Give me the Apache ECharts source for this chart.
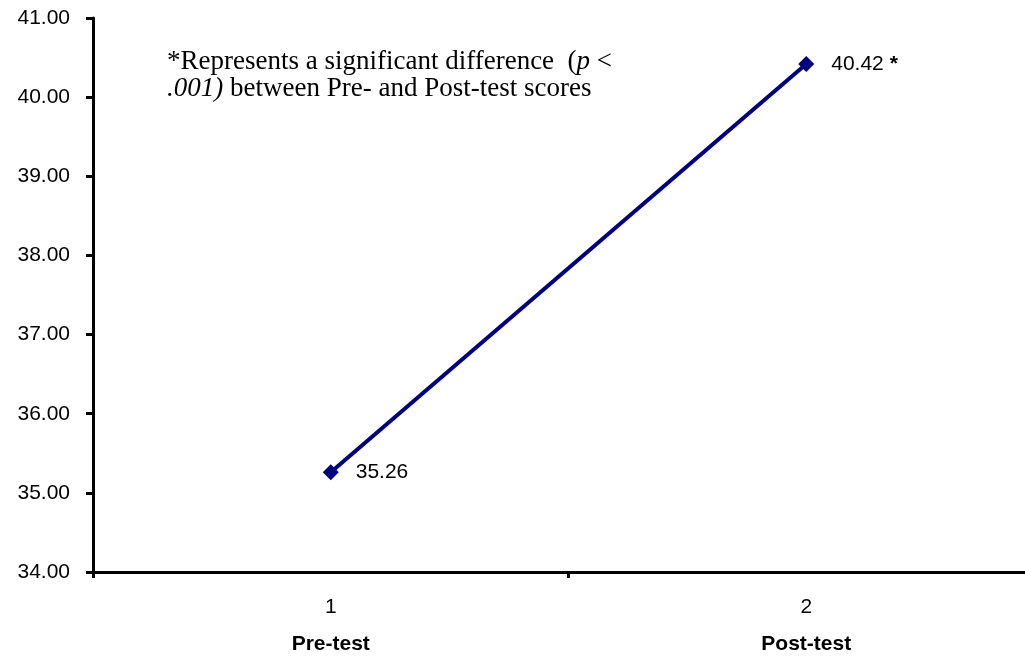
<!DOCTYPE html>
<html>
<head>
<meta charset="utf-8">
<script src="https://cdn.jsdelivr.net/npm/echarts@6/dist/echarts.min.js"></script>
<style>html,body{margin:0;padding:0;background:#fff;}#c{width:1025px;height:658px;}</style>
</head>
<body>
<div id="c"></div>
<script>
const categories = ['1', '2'];
const groupNames = ['Pre-test', 'Post-test'];
const scores = [35.26, 40.42];
const significant = [false, true];
const yMin = 34, yMax = 41, yStep = 1;

const chart = echarts.init(document.getElementById('c'));
chart.setOption({
  animation: false,
  backgroundColor: '#ffffff',
  grid: { left: 93, top: 18, bottom: 86, width: 951, outerBoundsMode: 'none', containLabel: false },
  xAxis: {
    type: 'category',
    data: categories,
    boundaryGap: true,
    axisLine: { lineStyle: { color: '#000', width: 3 } },
    axisTick: { show: true, length: 6, lineStyle: { color: '#000', width: 3 } },
    axisLabel: {
      margin: 17,
      formatter: function (v, i) { return '{n|' + v + '}\n{g|' + groupNames[i] + '}'; },
      rich: {
        n: { fontFamily: 'Liberation Sans, Arial', fontSize: 21, color: '#000', lineHeight: 37 },
        g: { fontFamily: 'Liberation Sans, Arial', fontSize: 21, fontWeight: 'bold', color: '#000', lineHeight: 37 }
      }
    },
    splitLine: { show: false }
  },
  yAxis: {
    type: 'value',
    min: yMin, max: yMax, interval: yStep,
    axisLine: { show: true, lineStyle: { color: '#000', width: 3 } },
    axisTick: { show: true, length: 7, lineStyle: { color: '#000', width: 3 } },
    axisLabel: {
      margin: 23,
      fontFamily: 'Liberation Sans, Arial', fontSize: 21, color: '#000',
      formatter: function (v) { return v.toFixed(2); }
    },
    splitLine: { show: false }
  },
  series: [{
    type: 'line',
    data: scores,
    symbol: 'diamond',
    symbolSize: 16,
    lineStyle: { color: '#000080', width: 4 },
    itemStyle: { color: '#000080' },
    label: {
      show: true,
      position: 'right',
      distance: 17,
      formatter: function (p) {
        return '{v|' + p.value.toFixed(2) + '}' + (significant[p.dataIndex] ? '{s| *}' : '');
      },
      rich: {
        v: { fontFamily: 'Liberation Sans, Arial', fontSize: 21, color: '#000' },
        s: { fontFamily: 'Liberation Sans, Arial', fontSize: 21, fontWeight: 'bold', color: '#000' }
      }
    }
  }],
  graphic: [{
    type: 'text',
    left: 167,
    top: 48,
    style: {
      text: '{r|*Represents a significant difference  (}{i|p}{r| <}\n{i|.001)}{r| between Pre- and Post-test scores}',
      rich: {
        r: { fontFamily: 'Liberation Serif, Times New Roman', fontSize: 27, color: '#000', lineHeight: 27 },
        i: { fontFamily: 'Liberation Serif, Times New Roman', fontSize: 27, fontStyle: 'italic', color: '#000', lineHeight: 27 }
      }
    }
  }]
});
</script>
</body>
</html>
